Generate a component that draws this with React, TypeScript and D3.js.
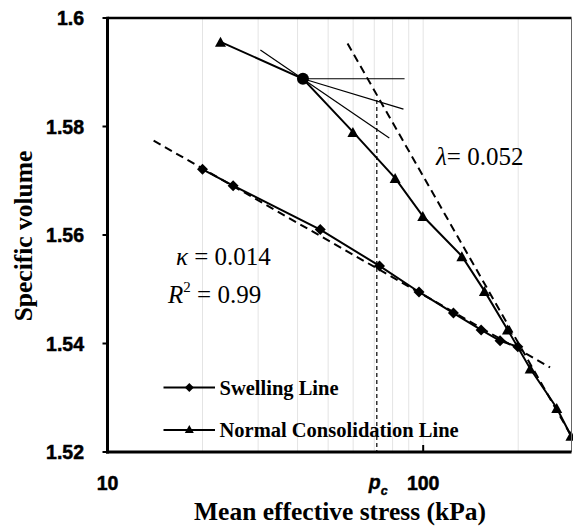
import React from "react";
import * as d3 from "d3";

// ---- Data ----
const swellP = [20, 25, 47.2, 72.7, 97, 124.7, 152.6, 175.2, 199.4];
const swellV = [1.5721, 1.5691, 1.561, 1.5543, 1.5495, 1.5456, 1.5425, 1.5405, 1.5394];

const nclP = [22.8, 41.6, 59.9, 81.5, 99.7, 132.6, 156.3, 184.9, 218.2, 264.9, 293.8];
const nclV = [1.5956, 1.5888, 1.579, 1.5705, 1.5635, 1.5561, 1.5497, 1.5426, 1.5354, 1.5281, 1.523];

// point of maximum curvature (Casagrande construction)
const curveP = [41.6];
const curveV = [1.5888];

// construction lines: [p0, v0, p1, v1]
const tangentLine = [30.5, 1.5941, 78.1, 1.5779];
const horizontalLine = [41.6, 1.5888, 87.3, 1.5888];
const bisectorLine = [41.6, 1.5888, 86.6, 1.5832];

// fitted lines
const kappaLine = [14.0, 1.5774, 252.3, 1.5356];
const lambdaLine = [57.6, 1.5953, 293, 1.5232];

// preconsolidation pressure
const pcValue = [71.3, 1.5849];

const xTicks = [10, 100];
const xGrid = [20, 30, 40, 50, 60, 70, 80, 90, 100, 200];
const yTicks = [1.52, 1.54, 1.56, 1.58, 1.6];

const W = 573;
const H = 532;
const L = 107.5;
const R = 571.5;
const T = 18;
const B = 452;

export default function App() {
  const x = d3.scaleLog().domain([10, 295]).range([L, R]);
  const y = d3.scaleLinear().domain([1.52, 1.6]).range([B, T]);

  const line = d3
    .line<[number, number]>()
    .x((d) => x(d[0]))
    .y((d) => y(d[1]));

  const swell: [number, number][] = swellP.map((p, i) => [p, swellV[i]]);
  const ncl: [number, number][] = nclP.map((p, i) => [p, nclV[i]]);

  const diamond = (cx: number, cy: number, r: number) =>
    `M${cx},${cy - r}L${cx + r},${cy}L${cx},${cy + r}L${cx - r},${cy}Z`;
  const triangle = (cx: number, cy: number, w: number, h: number) =>
    `M${cx},${cy - h / 2}L${cx + w / 2},${cy + h / 2}L${cx - w / 2},${cy + h / 2}Z`;

  const seg = (a: number[]) => (
    <line x1={x(a[0])} y1={y(a[1])} x2={x(a[2])} y2={y(a[3])} />
  );

  const isCurve = (p: number, v: number) =>
    curveP.some((cp, i) => cp === p && curveV[i] === v);

  const sans = "'Liberation Sans', Arial, sans-serif";
  const serif = "'Liberation Serif', 'Times New Roman', serif";

  return (
    <svg
      width={W}
      height={H}
      style={{ position: "absolute", left: 0, top: 0, background: "#fff" }}
    >
      <rect x={0} y={0} width={W} height={H} fill="#fff" />
      {/* gridlines */}
      <g stroke="#e4e4e4" strokeWidth={1}>
        {xGrid.map((g) => (
          <line key={g} x1={x(g)} x2={x(g)} y1={T} y2={B} />
        ))}
      </g>

      {/* fitted dashed lines */}
      <g stroke="#000" strokeWidth={2} strokeDasharray="8,5" fill="none">
        {seg(kappaLine)}
        {seg(lambdaLine)}
      </g>

      {/* pc vertical */}
      <line
        x1={x(pcValue[0])}
        x2={x(pcValue[0])}
        y1={y(pcValue[1])}
        y2={B}
        stroke="#000"
        strokeWidth={1.2}
        strokeDasharray="4,3"
      />

      {/* construction lines */}
      <g stroke="#000" strokeWidth={1.2}>
        {seg(tangentLine)}
        {seg(horizontalLine)}
        {seg(bisectorLine)}
      </g>

      {/* series lines */}
      <path d={line(swell) || ""} fill="none" stroke="#000" strokeWidth={2} />
      <path d={line(ncl) || ""} fill="none" stroke="#000" strokeWidth={2} />

      {/* markers */}
      <g fill="#000">
        {swell.map((d, i) => (
          <path key={"s" + i} d={diamond(x(d[0]), y(d[1]), 5.5)} />
        ))}
        {ncl
          .filter((d) => !isCurve(d[0], d[1]))
          .map((d, i) => (
            <path key={"n" + i} d={triangle(x(d[0]), y(d[1]), 11, 10)} />
          ))}
        {curveP.map((p, i) => (
          <circle key={"c" + i} cx={x(p)} cy={y(curveV[i])} r={6} />
        ))}
      </g>

      {/* frame / axes */}
      <line x1={L} x2={R} y1={T} y2={T} stroke="#000" strokeWidth={2.5} />
      <line x1={R} x2={R} y1={T} y2={B} stroke="#666" strokeWidth={1} />
      <line x1={L} x2={L} y1={T - 1.2} y2={B + 1.5} stroke="#000" strokeWidth={3} />
      <line x1={L - 1.5} x2={R} y1={B} y2={B} stroke="#000" strokeWidth={3} />

      {/* y ticks */}
      {yTicks.map((t) => (
        <g key={t}>
          <line x1={L - 5} x2={L} y1={y(t)} y2={y(t)} stroke="#000" strokeWidth={2} />
          <text
            x={84}
            y={y(t) + 7}
            textAnchor="end"
            fontFamily={sans}
            fontWeight={700}
            fontSize={19.5}
            stroke="#000"
            strokeWidth={0.5}
          >
            {String(t)}
          </text>
        </g>
      ))}

      {/* x ticks */}
      {xTicks.map((t) => (
        <g key={t}>
          <line x1={x(t)} x2={x(t)} y1={B} y2={B - 7} stroke="#000" strokeWidth={2} />
          <text
            x={x(t)}
            y={490}
            textAnchor="middle"
            fontFamily={sans}
            fontWeight={700}
            fontSize={19.5}
            stroke="#000"
            strokeWidth={0.5}
          >
            {String(t)}
          </text>
        </g>
      ))}
      <text
        x={x(pcValue[0]) - 8}
        y={489}
        fontFamily={sans}
        fontWeight={700}
        fontStyle="italic"
        fontSize={19.5}
        stroke="#000"
        strokeWidth={0.4}
      >
        p
        <tspan fontSize={12.5} dy={5.5}>
          c
        </tspan>
      </text>

      {/* axis titles */}
      <text
        transform="translate(31.5,236) rotate(-90)"
        textAnchor="middle"
        fontFamily={serif}
        fontWeight="bold"
        fontSize={25.5}
      >
        Specific volume
      </text>
      <text
        x={340}
        y={520}
        textAnchor="middle"
        fontFamily={serif}
        fontWeight="bold"
        fontSize={25.5}
      >
        Mean effective stress (kPa)
      </text>

      {/* annotations */}
      <text x={176} y={265} fontFamily={serif} fontSize={25}>
        <tspan fontStyle="italic">κ</tspan> = 0.014
      </text>
      <text x={168} y={302.5} fontFamily={serif} fontSize={25}>
        <tspan fontStyle="italic">R</tspan>
        <tspan fontSize={15} dy={-11}>
          2
        </tspan>
        <tspan dy={11}> = 0.99</tspan>
      </text>
      <text x={436} y={165} fontFamily={serif} fontSize={25}>
        <tspan fontStyle="italic">λ</tspan>= 0.052
      </text>

      {/* legend */}
      <g>
        <line x1={163.5} x2={215} y1={387.5} y2={387.5} stroke="#000" strokeWidth={2} />
        <path d={diamond(189.3, 387.5, 4.5)} fill="#000" />
        <text x={219.5} y={394.5} fontFamily={serif} fontWeight="bold" fontSize={20.5}>
          Swelling Line
        </text>
        <line x1={163.5} x2={215} y1={430} y2={430} stroke="#000" strokeWidth={2} />
        <path d={triangle(189.3, 429, 9, 8)} fill="#000" />
        <text x={219.5} y={437} fontFamily={serif} fontWeight="bold" fontSize={20.5}>
          Normal Consolidation Line
        </text>
      </g>
    </svg>
  );
}
